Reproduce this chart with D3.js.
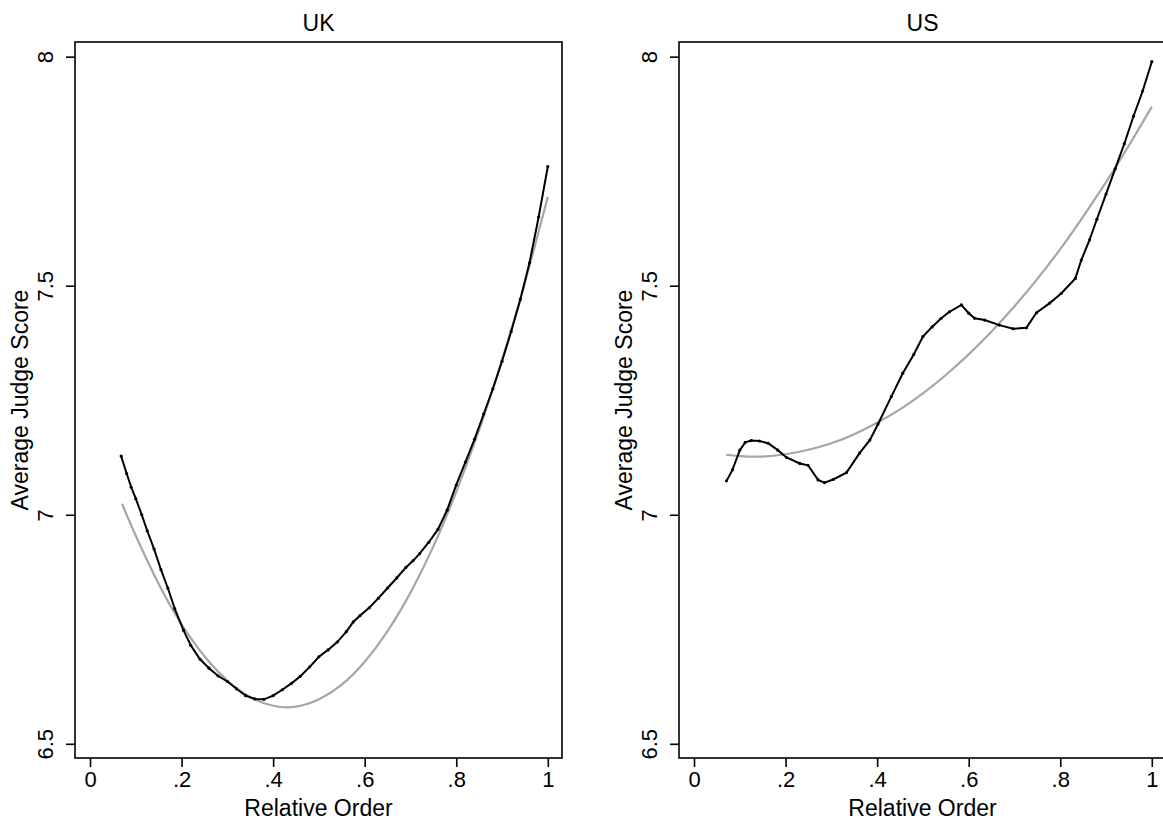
<!DOCTYPE html>
<html>
<head>
<meta charset="utf-8">
<script src="https://cdn.jsdelivr.net/npm/d3@7"></script>
<style>
  body { margin: 0; background: #fff; }
  text { font-family: "Liberation Sans", Arial, sans-serif; fill: #000; }
</style>
</head>
<body>
<svg id="chart"></svg>
<script>
// ---- data ----
let ukX = [0.068, 0.08, 0.09, 0.10, 0.113, 0.125, 0.14, 0.155, 0.17, 0.185, 0.204, 0.22, 0.24, 0.26, 0.28,
    0.30, 0.32, 0.34, 0.36, 0.38, 0.40, 0.42, 0.44, 0.459, 0.48, 0.50, 0.52, 0.54, 0.56, 0.575, 0.59,
    0.61, 0.63, 0.65, 0.67, 0.69, 0.706, 0.72, 0.74, 0.76, 0.78, 0.80, 0.82, 0.84, 0.86, 0.88, 0.90,
    0.92, 0.94, 0.96, 0.98, 1.00];
let ukScore = [7.128, 7.09, 7.06, 7.035, 7.0, 6.965, 6.925, 6.88, 6.84, 6.795, 6.748, 6.715, 6.685, 6.665, 6.648,
    6.636, 6.62, 6.605, 6.598, 6.597, 6.605, 6.618, 6.632, 6.647, 6.668, 6.69, 6.705, 6.722, 6.745, 6.766, 6.78,
    6.797, 6.818, 6.84, 6.862, 6.885, 6.90, 6.915, 6.94, 6.968, 7.01, 7.065, 7.115, 7.165, 7.22, 7.275, 7.335,
    7.40, 7.47, 7.55, 7.65, 7.76];

let usX = [0.071, 0.084, 0.10, 0.112, 0.125, 0.143, 0.162, 0.183, 0.202, 0.231, 0.249, 0.271, 0.285, 0.304,
    0.333, 0.362, 0.384, 0.402, 0.431, 0.456, 0.48, 0.50, 0.52, 0.54, 0.558, 0.584, 0.60, 0.613, 0.635,
    0.667, 0.697, 0.726, 0.748, 0.777, 0.802, 0.833, 0.846, 0.864, 0.88, 0.90, 0.92, 0.94, 0.96, 0.98, 1.00];
let usScore = [7.074, 7.098, 7.141, 7.158, 7.162, 7.161, 7.156, 7.141, 7.125, 7.112, 7.108, 7.076, 7.070, 7.077,
    7.092, 7.135, 7.163, 7.198, 7.258, 7.309, 7.35, 7.389, 7.41, 7.429, 7.443, 7.458, 7.44, 7.429, 7.425,
    7.414, 7.406, 7.408, 7.441, 7.462, 7.483, 7.516, 7.556, 7.60, 7.645, 7.70, 7.755, 7.81, 7.87, 7.925, 7.989];

// quadratic fit lines (grey)
let fitX = [0.07, 0.10, 0.15, 0.20, 0.25, 0.30, 0.35, 0.40, 0.45, 0.50, 0.55, 0.60, 0.65, 0.70, 0.75,
    0.80, 0.85, 0.90, 0.95, 1.00];
let ukFit = [7.024, 6.954, 6.849, 6.761, 6.691, 6.638, 6.602, 6.583, 6.581, 6.597, 6.629, 6.679, 6.746, 6.830, 6.931,
    7.050, 7.185, 7.338, 7.507, 7.694];
let usFit = [7.131, 7.128, 7.127, 7.132, 7.142, 7.156, 7.176, 7.201, 7.230, 7.265, 7.305, 7.350, 7.400, 7.455, 7.515,
    7.580, 7.651, 7.726, 7.806, 7.891];

let xTicks = [0, 0.2, 0.4, 0.6, 0.8, 1];
let xTickLabels = ["0", ".2", ".4", ".6", ".8", "1"];
let yTicks = [6.5, 7, 7.5, 8];
let yTickLabels = ["6.5", "7", "7.5", "8"];

let panels = [
    { title: "UK", x: ukX, y: ukScore, fit: ukFit, left: 75 },
    { title: "US", x: usX, y: usScore, fit: usFit, left: 679 }
];

let width = 1163;
let height = 829;
let panelWidth = 487;
let plotTop = 42;
let plotBottom = 758;

let svg = d3.select("#chart")
    .attr("width", width)
    .attr("height", height);

panels.forEach(p => drawPanel(p));

function drawPanel(p) {
    // scales: domain padded so that ticks sit inside the frame
    let x = d3.scaleLinear()
        .domain([-0.0328, 1.031])
        .range([p.left, p.left + panelWidth]);
    let y = d3.scaleLinear()
        .domain([6.469, 8.032])
        .range([plotBottom, plotTop]);

    let g = svg.append("g");

    // grey fitted curve
    let fitLine = d3.line()
        .x((d, i) => x(fitX[i]))
        .y(d => y(d))
        .curve(d3.curveNatural);
    g.append("path")
        .attr("d", fitLine(p.fit))
        .attr("fill", "none")
        .attr("stroke", "#a6a6a6")
        .attr("stroke-width", 2.2);

    // black connected line
    let dataLine = d3.line()
        .x((d, i) => x(p.x[i]))
        .y(d => y(d));
    g.append("path")
        .attr("d", dataLine(p.y))
        .attr("fill", "none")
        .attr("stroke", "#000")
        .attr("stroke-width", 2);

    // small markers on the black line
    g.selectAll("circle")
        .data(p.y)
        .enter().append("circle")
            .attr("cx", (d, i) => x(p.x[i]))
            .attr("cy", d => y(d))
            .attr("r", 1.6)
            .attr("fill", "#000");

    // frame
    g.append("rect")
        .attr("x", p.left)
        .attr("y", plotTop)
        .attr("width", panelWidth)
        .attr("height", plotBottom - plotTop)
        .attr("fill", "none")
        .attr("stroke", "#000")
        .attr("stroke-width", 1.6);

    // x axis
    let xAxis = d3.axisBottom(x)
        .tickValues(xTicks)
        .tickSize(9)
        .tickPadding(4)
        .tickFormat((d, i) => xTickLabels[i]);
    let gx = g.append("g")
        .attr("transform", "translate(0," + plotBottom + ")")
        .call(xAxis);
    gx.select(".domain").remove();
    gx.selectAll("line").attr("stroke", "#000").attr("stroke-width", 1.6);
    gx.selectAll("text")
        .attr("font-size", 22)
        .attr("font-family", "Liberation Sans, Arial, sans-serif");

    // y axis, labels turned vertical
    let yAxis = d3.axisLeft(y)
        .tickValues(yTicks)
        .tickSize(9)
        .tickFormat((d, i) => yTickLabels[i]);
    let gy = g.append("g")
        .attr("transform", "translate(" + p.left + ",0)")
        .call(yAxis);
    gy.select(".domain").remove();
    gy.selectAll("line").attr("stroke", "#000").attr("stroke-width", 1.6);
    gy.selectAll("text")
        .attr("x", null)
        .attr("dy", null)
        .attr("transform", "translate(-22,0) rotate(-90)")
        .attr("text-anchor", "middle")
        .attr("font-size", 22)
        .attr("font-family", "Liberation Sans, Arial, sans-serif");

    // panel title
    g.append("text")
        .attr("x", p.left + panelWidth / 2)
        .attr("y", 31)
        .attr("text-anchor", "middle")
        .attr("font-size", 23)
        .text(p.title);

    // axis titles
    g.append("text")
        .attr("x", p.left + panelWidth / 2)
        .attr("y", 816)
        .attr("text-anchor", "middle")
        .attr("font-size", 23)
        .text("Relative Order");
    g.append("text")
        .attr("transform", "translate(" + (p.left - 47) + "," + (plotTop + plotBottom) / 2 + ") rotate(-90)")
        .attr("text-anchor", "middle")
        .attr("font-size", 23)
        .text("Average Judge Score");
}
</script>
</body>
</html>
